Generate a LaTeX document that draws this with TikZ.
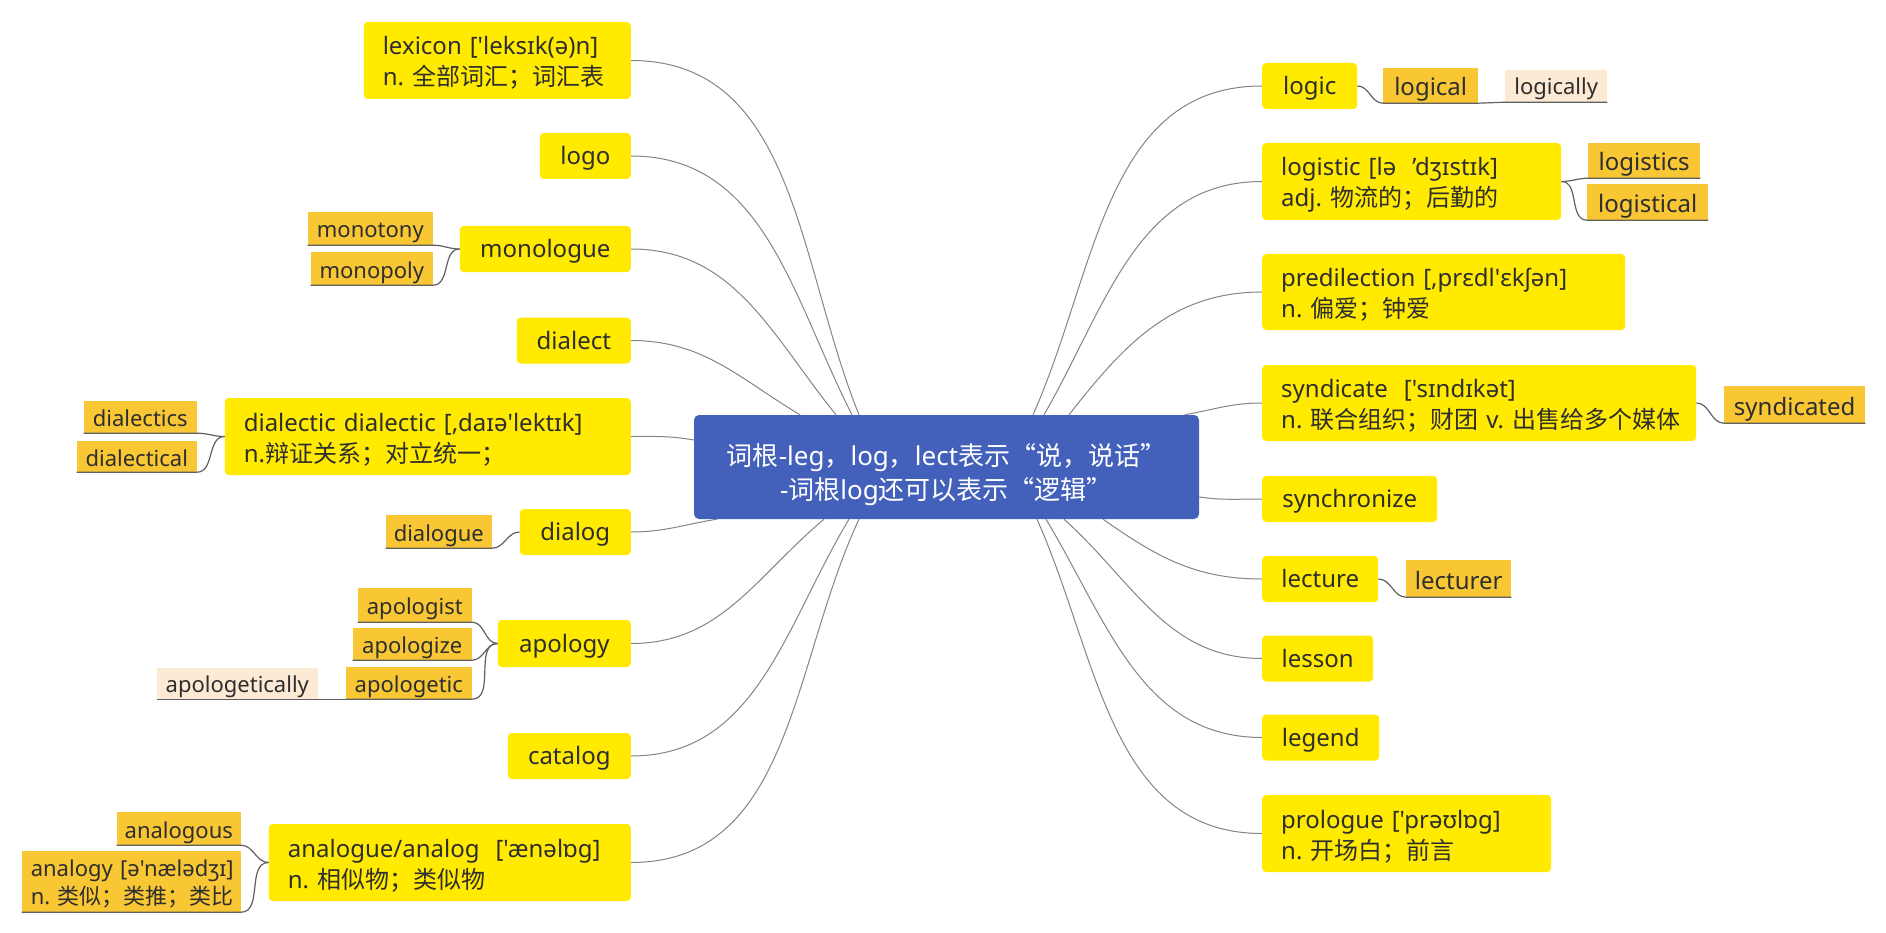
\documentclass[tikz,border=0pt]{standalone}
\usepackage{fontspec}
\newfontfamily\nf{Noto Sans}
\newfontfamily\cjk{Noto Sans CJK SC}
\newcommand\zh[1]{{\cjk #1}}
\definecolor{myyellow}{HTML}{FFEA00}
\definecolor{suborange}{HTML}{F8C733}
\definecolor{peach}{HTML}{FDEAD4}
\definecolor{cenblue}{HTML}{4361BA}
\definecolor{txt}{HTML}{2E2E2E}
\definecolor{linegray}{HTML}{858585}
\definecolor{subgray}{HTML}{606060}
\pgfdeclarelayer{background}
\pgfsetlayers{background,main}
\begin{document}
\begin{tikzpicture}[x=1pt,y=-1pt,
  cenbox/.style={rectangle, rounded corners=5pt, fill=cenblue, text=white, font=\nf\frenchspacing\fontsize{26}{34}\selectfont, align=center, minimum width=505pt, minimum height=104pt, inner sep=0pt, text height=64pt, text depth=0pt},
  mainbox/.style={rectangle, rounded corners=4pt, fill=myyellow, text=txt, font=\nf\frenchspacing\fontsize{24}{31}\selectfont, inner sep=0pt, minimum height=46pt, text height=17pt, text depth=0pt},
  mainml/.style={mainbox, align=left, inner xsep=19pt, minimum height=77pt, text height=18pt, text depth=29pt},
  subbox/.style={rectangle, fill=suborange, text=txt, font=\nf\frenchspacing\fontsize{22}{28}\selectfont, inner sep=0pt, minimum height=33pt, text height=19pt, text depth=0pt},
  subboxr/.style={subbox, font=\nf\frenchspacing\fontsize{24}{30}\selectfont, minimum height=36pt, text height=21pt},
  thirdbox/.style={rectangle, fill=peach, text=txt, font=\nf\frenchspacing\fontsize{22}{28}\selectfont, inner sep=0pt, minimum height=31pt, text height=18pt, text depth=0pt},
  mline/.style={draw=linegray, line width=1pt},
  sline/.style={draw=subgray, line width=1.2pt},
]
\useasboundingbox (0,0) rectangle (1886,933);
\begin{pgfonlayer}{background}
\fill[white] (0,0) rectangle (1886,933);
\end{pgfonlayer}

% central topic
\node[cenbox] (cen) at (946.5,467) {\zh{词根}-leg\zh{，}log\zh{，}lect\zh{表示“说，说话”}\\-\zh{词根}log\zh{还可以表示“逻辑”}};

% left main topics
\node[mainml, anchor=east, text width=229pt] (lexicon) at (631,60.5) {\mbox{lexicon ['leksɪk(ə)n]}\\\mbox{n. \zh{全部词汇；词汇表}}};
\node[mainbox, anchor=east, minimum width=91pt] (logo) at (631,156) {logo};
\node[mainbox, anchor=east, minimum width=171pt] (monologue) at (631,249) {monologue};
\node[mainbox, anchor=east, minimum width=114pt] (dialect) at (631,340.5) {dialect};
\node[mainml, anchor=east, text width=368pt] (dialectic) at (631,436.5) {\mbox{dialectic dialectic [,daɪə'lektɪk]}\\\mbox{n.\zh{辩证关系；对立统一；}}};
\node[mainbox, anchor=east, minimum width=111pt] (dialog) at (631,532) {dialog};
\node[mainbox, anchor=east, minimum width=133pt, minimum height=47pt] (apology) at (631,643.5) {apology};
\node[mainbox, anchor=east, minimum width=123pt] (catalog) at (631,756) {catalog};
\node[mainml, anchor=east, text width=324pt] (analogue) at (631,862.5) {\mbox{analogue/analog\ \ ['ænəlɒg]}\\\mbox{n. \zh{相似物；类似物}}};

% right main topics
\node[mainbox, anchor=west, minimum width=95pt] (logic) at (1262,86) {logic};
\node[mainml, anchor=west, text width=261pt] (logistic) at (1262,181.5) {\mbox{logistic [lə\ \ ’dʒɪstɪk]}\\\mbox{adj. \zh{物流的；后勤的}}};
\node[mainml, anchor=west, text width=325pt, minimum height=76pt] (predilection) at (1262,292) {\mbox{predilection [,prɛdl'ɛkʃən]}\\\mbox{n. \zh{偏爱；钟爱}}};
\node[mainml, anchor=west, text width=396pt, minimum height=76pt] (syndicate) at (1262,403) {\mbox{syndicate\ \ ['sɪndɪkət]}\\\mbox{n. \zh{联合组织；财团} v. \zh{出售给多个媒体}}};
\node[mainbox, anchor=west, minimum width=175pt] (synchronize) at (1262,499) {synchronize};
\node[mainbox, anchor=west, minimum width=116pt] (lecture) at (1262,579) {lecture};
\node[mainbox, anchor=west, minimum width=111pt] (lesson) at (1262,658.5) {lesson};
\node[mainbox, anchor=west, minimum width=117pt] (legend) at (1262,737.5) {legend};
\node[mainml, anchor=west, text width=251pt] (prologue) at (1262,833.5) {\mbox{prologue ['prəʊlɒg]}\\\mbox{n. \zh{开场白；前言}}};

% left subtopics
\node[subbox, anchor=east, minimum width=125pt] (monotony) at (433,228.5) {monotony};
\node[subbox, anchor=east, minimum width=122pt] (monopoly) at (433,268.5) {monopoly};
\node[subbox, anchor=east, minimum width=113pt, minimum height=32pt] (dialectics) at (197,417) {dialectics};
\node[subbox, anchor=east, minimum width=120pt, minimum height=31pt] (dialectical) at (197,456.5) {dialectical};
\node[subbox, anchor=east, minimum width=106pt] (dialogue) at (492,531.5) {dialogue};
\node[subbox, anchor=east, minimum width=114pt, minimum height=34pt] (apologist) at (472,605) {apologist};
\node[subbox, anchor=east, minimum width=119pt, minimum height=32pt] (apologize) at (472,644) {apologize};
\node[subbox, anchor=east, minimum width=126pt, minimum height=32pt] (apologetic) at (472,683) {apologetic};
\node[thirdbox, anchor=east, minimum width=161pt] (apologetically) at (318,683.5) {apologetically};
\node[subbox, anchor=east, minimum width=124pt] (analogous) at (241,828.5) {analogous};
\node[subbox, anchor=east, align=left, inner xsep=9pt, text width=201pt, minimum height=61pt, text height=14pt, text depth=25pt] (analogy) at (241,881.5) {\mbox{analogy [ə'nælədʒɪ]}\\\mbox{n. \zh{类似；类推；类比}}};

% right subtopics
\node[subboxr, anchor=west, minimum width=95pt, minimum height=35pt] (logical) at (1383,85.5) {logical};
\node[thirdbox, anchor=west, minimum width=102pt, minimum height=32pt] (logically) at (1505,86) {logically};
\node[subboxr, anchor=west, minimum width=112pt, minimum height=35pt] (logistics) at (1588,160.5) {logistics};
\node[subboxr, anchor=west, minimum width=121pt] (logistical) at (1587,202) {logistical};
\node[subboxr, anchor=west, minimum width=141pt, minimum height=37pt] (syndicated) at (1724,404.5) {syndicated};
\node[subboxr, anchor=west, minimum width=105pt, minimum height=37pt] (lecturer) at (1406,578.5) {lecturer};

% main connectors (behind boxes)
\begin{pgfonlayer}{background}
\draw[mline] (lexicon.east) to[out=0,in=112] ([xshift=-87.5pt]cen.north);
\draw[mline] (logo.east) to[out=0,in=117] ([xshift=-94.5pt]cen.north);
\draw[mline] (monologue.east) to[out=0,in=129] ([xshift=-110.5pt]cen.north);
\draw[mline] (dialect.east) to[out=0,in=149] ([xshift=-146.5pt]cen.north);
\draw[mline] (dialectic.east) to[out=0,in=170] ([yshift=27pt]cen.west);
\draw[mline] (dialog.east) to[out=0,in=189] ([xshift=-229.5pt]cen.south);
\draw[mline] (apology.east) to[out=0,in=220] ([xshift=-122.5pt]cen.south);
\draw[mline] (catalog.east) to[out=0,in=239] ([xshift=-97.5pt]cen.south);
\draw[mline] (analogue.east) to[out=0,in=245] ([xshift=-87.5pt]cen.south);
\draw[mline] (logic.west) to[out=180,in=66] ([xshift=86.5pt]cen.north);
\draw[mline] (logistic.west) to[out=180,in=60] ([xshift=97.5pt]cen.north);
\draw[mline] (predilection.west) to[out=180,in=52] ([xshift=122.5pt]cen.north);
\draw[mline] (syndicate.west) to[out=180,in=10] ([xshift=238pt]cen.north);
\draw[mline] (synchronize.west) to[out=180,in=352] ([yshift=-30pt]cen.east);
\draw[mline] (lecture.west) to[out=180,in=325] ([xshift=156.5pt]cen.south);
\draw[mline] (lesson.west) to[out=180,in=318] ([xshift=117.5pt]cen.south);
\draw[mline] (legend.west) to[out=180,in=301] ([xshift=99.5pt]cen.south);
\draw[mline] (prologue.west) to[out=180,in=294] ([xshift=90.5pt]cen.south);
\end{pgfonlayer}

% sub connectors with underlines
\draw[sline] (monologue.west) to[out=180,in=0] (monotony.south east) -- (monotony.south west);
\draw[sline] (monologue.west) to[out=180,in=0] (monopoly.south east) -- (monopoly.south west);
\draw[sline] (dialectic.west) to[out=180,in=0] (dialectics.south east) -- (dialectics.south west);
\draw[sline] (dialectic.west) to[out=180,in=0] (dialectical.south east) -- (dialectical.south west);
\draw[sline] (dialog.west) to[out=180,in=0] (dialogue.south east) -- (dialogue.south west);
\draw[sline] (apology.west) to[out=180,in=0] (apologist.south east) -- (apologist.south west);
\draw[sline] (apology.west) to[out=180,in=0] (apologize.south east) -- (apologize.south west);
\draw[sline] (apology.west) to[out=180,in=0] (apologetic.south east) -- (apologetic.south west);
\draw[sline] (apologetic.south west) -- (apologetically.south east) -- (apologetically.south west);
\draw[sline] (analogue.west) to[out=180,in=0] (analogous.south east) -- (analogous.south west);
\draw[sline] (analogue.west) to[out=180,in=0] (analogy.south east) -- (analogy.south west);
\draw[sline] (logic.east) to[out=0,in=180] (logical.south west) -- (logical.south east);
\draw[sline] (logical.south east) -- (logically.south west) -- (logically.south east);
\draw[sline] (logistic.east) to[out=0,in=180] (logistics.south west) -- (logistics.south east);
\draw[sline] (logistic.east) to[out=0,in=180] (logistical.south west) -- (logistical.south east);
\draw[sline] (syndicate.east) to[out=0,in=180] (syndicated.south west) -- (syndicated.south east);
\draw[sline] (lecture.east) to[out=0,in=180] (lecturer.south west) -- (lecturer.south east);
\end{tikzpicture}
\end{document}
